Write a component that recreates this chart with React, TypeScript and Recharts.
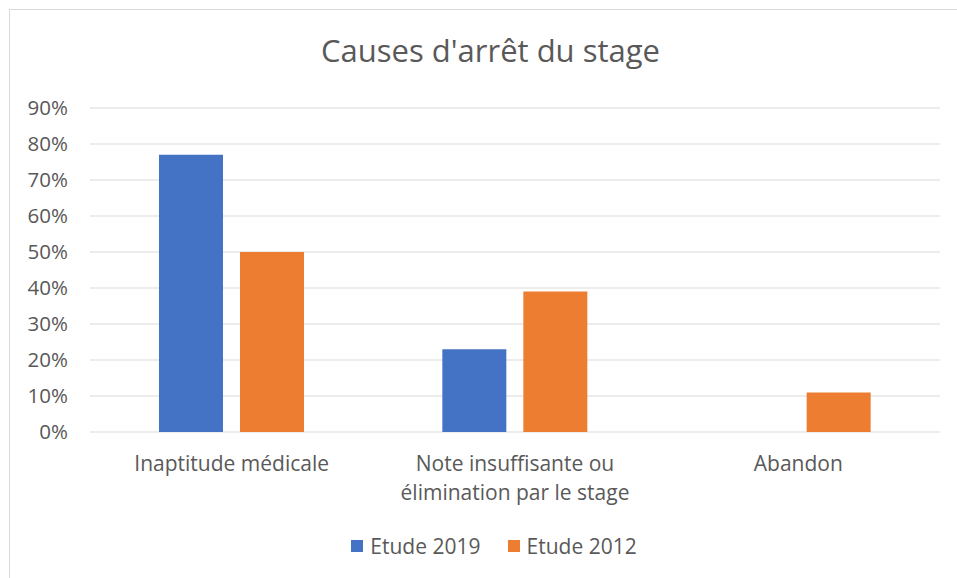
import React from 'react';
import { BarChart, Bar, XAxis, YAxis, CartesianGrid } from 'recharts';

const categories = ['Inaptitude médicale', 'Note insuffisante ou\nélimination par le stage', 'Abandon'];
const etude2019 = [77, 23, 0];
const etude2012 = [50, 39, 11];
const yTicks = [0, 10, 20, 30, 40, 50, 60, 70, 80, 90];

const BLUE = '#4472C4';
const ORANGE = '#ED7D31';
const TEXT = '#595959';
const GRID = '#d9d9d9';
const FONT = '"Open Sans", Lato, sans-serif';

const data = categories.map((name, i) => ({
    name,
    etude2019: etude2019[i],
    etude2012: etude2012[i],
}));

const CategoryTick: React.FC<any> = ({ x, y, payload }) => {
    const lines = String(payload.value).split('\n');
    return (
        <text x={x} y={y} textAnchor="middle" fill={TEXT} fontSize={21} fontFamily={FONT}>
            {lines.map((line, i) => (
                <tspan key={i} x={x} dy={i === 0 ? 39 : 29}>{line}</tspan>
            ))}
        </text>
    );
};

const App: React.FC = () => {
    return (
        <div style={{ position: 'absolute', left: 0, top: 0, width: 957, height: 578, background: '#fff', overflow: 'hidden' }}>
            {/* chart frame, only its top and left edges are in view */}
            <div style={{ position: 'absolute', left: 9, top: 9, width: 948, height: 569, borderTop: `1px solid ${GRID}`, borderLeft: `1px solid ${GRID}`, boxSizing: 'border-box' }} />
            <div style={{ position: 'absolute', left: 0, top: 29, width: 957, textAlign: 'center', fontFamily: FONT, fontSize: 31, color: TEXT, paddingLeft: 24, boxSizing: 'border-box' }}>
                Causes d'arrêt du stage
            </div>
            <div style={{ position: 'absolute', left: 0, top: 0 }}>
                <BarChart
                    width={957}
                    height={578}
                    data={data}
                    margin={{ top: 108, right: 17, left: 0, bottom: 86 }}
                    barGap={17}
                    barSize={64}
                >
                    <CartesianGrid horizontal vertical={false} stroke={GRID} strokeWidth={1} />
                    <XAxis
                        dataKey="name"
                        axisLine={false}
                        tickLine={false}
                        tickSize={0}
                        tickMargin={0}
                        interval={0}
                        height={60}
                        tick={<CategoryTick />}
                    />
                    <YAxis
                        width={90}
                        domain={[0, 90]}
                        ticks={yTicks}
                        axisLine={false}
                        tickLine={false}
                        tickSize={0}
                        tickMargin={22}
                        tick={{ fill: TEXT, fontSize: 20.5, fontFamily: FONT }}
                        tickFormatter={(v: number) => `${v}%`}
                        allowDataOverflow
                    />
                    <Bar dataKey="etude2019" name="Etude 2019" fill={BLUE} isAnimationActive={false} />
                    <Bar dataKey="etude2012" name="Etude 2012" fill={ORANGE} isAnimationActive={false} />
                </BarChart>
            </div>
            <div style={{ position: 'absolute', left: 0, top: 532, width: 957, display: 'flex', justifyContent: 'center', fontFamily: FONT, fontSize: 21, color: TEXT, paddingLeft: 31, boxSizing: 'border-box' }}>
                {[{ label: 'Etude 2019', color: BLUE }, { label: 'Etude 2012', color: ORANGE }].map((item, i) => (
                    <div key={item.label} style={{ display: 'flex', alignItems: 'center', marginLeft: i === 0 ? 0 : 27 }}>
                        <span style={{ display: 'inline-block', width: 12, height: 12, background: item.color, marginRight: 7 }} />
                        <span>{item.label}</span>
                    </div>
                ))}
            </div>
        </div>
    );
};

export default App;
